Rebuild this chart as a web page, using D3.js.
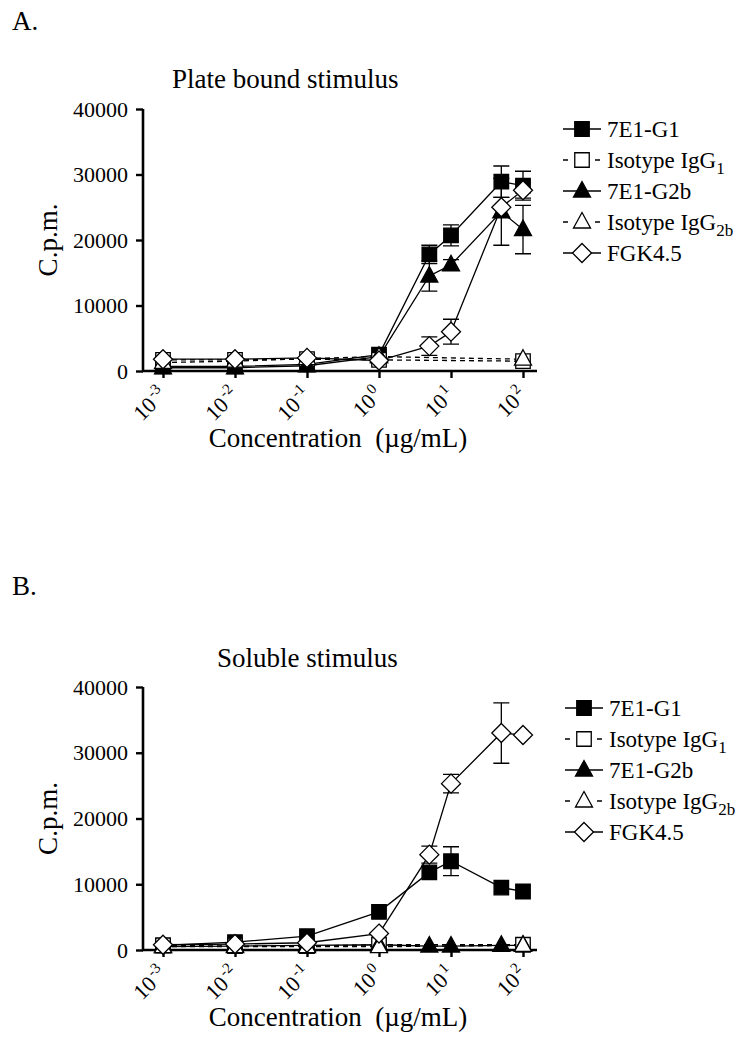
<!DOCTYPE html>
<html><head><meta charset="utf-8">
<script src="https://cdn.jsdelivr.net/npm/d3@7"></script>
<style>
body{margin:0;background:#fff}
svg{display:block}
text{font-family:"Liberation Serif","Times New Roman",serif;fill:#000}
</style>
</head><body>
<svg id="c" width="753" height="1050"></svg>
<script>
// ---------- DATA ----------
const concAll = [0.001, 0.01, 0.1, 1, 5, 10, 50, 100];
const concIso = [0.001, 0.01, 0.1, 1, 100];
const xTickValues = [1e-3, 1e-2, 1e-1, 1e0, 1e1, 1e2];
const xTickExponents = ["-3", "-2", "-1", "0", "1", "2"];
const yTickValues = [0, 10000, 20000, 30000, 40000];
const seriesNames = ["7E1-G1", "Isotype IgG", "7E1-G2b", "Isotype IgG", "FGK4.5"];
const seriesSubs = ["", "1", "", "2b", ""];

// Panel A: plate bound stimulus
const A_G1 = [700, 700, 1000, 2500, 17800, 20700, 28900, 28300];
const A_G1_err = [0, 0, 0, 0, 1400, 1600, 2400, 2200];
const A_IgG1 = [1700, 1700, 1800, 1700, 1500];
const A_G2b = [500, 500, 800, 2200, 14500, 16200, 24300, 21600];
const A_G2b_err = [0, 0, 0, 0, 2300, 800, 5100, 3700];
const A_IgG2b = [1300, 1500, 1900, 2200, 1800];
const A_FGK = [1800, 1800, 2000, 1600, 3800, 6000, 25000, 27600];
const A_FGK_err = [0, 0, 0, 0, 1400, 1900, 1500, 1200];

// Panel B: soluble stimulus
const B_G1 = [700, 1200, 2100, 5800, 11800, 13500, 9500, 8900];
const B_G1_err = [0, 0, 0, 0, 0, 2200, 0, 0];
const B_IgG1 = [700, 600, 600, 800, 800];
const B_G2b = [500, 600, 700, 800, 600, 600, 700, 700];
const B_G2b_err = [0, 0, 0, 0, 0, 0, 0, 0];
const B_IgG2b = [500, 500, 500, 500, 700];
const B_FGK = [800, 900, 1100, 2500, 14500, 25300, 33000, 32700];
const B_FGK_err = [0, 0, 0, 0, 1300, 1400, 4600, 0];

// ---------- LAYOUT ----------
const svg = d3.select("#c");
const FONT = "'Liberation Serif','Times New Roman',serif";

function buildSeries(G1, G1e, I1, G2, G2e, I2, F, Fe) {
  const z = (c, v, e) => c.map((cc, i) => ({c: cc, v: v[i], e: e ? e[i] : 0}));
  return [
    {name: 0, pts: z(concAll, G1, G1e), shape: "square", fill: "#000", dash: null},
    {name: 1, pts: z(concIso, I1), shape: "square", fill: "#fff", dash: "5,4"},
    {name: 2, pts: z(concAll, G2, G2e), shape: "triangle", fill: "#000", dash: null},
    {name: 3, pts: z(concIso, I2), shape: "triangle", fill: "#fff", dash: "5,4"},
    {name: 4, pts: z(concAll, F, Fe), shape: "diamond", fill: "#fff", dash: null}
  ];
}

const panels = [
  {letter: "A.", letterY: 30, title: "Plate bound stimulus", titleX: 172, titleY: 88,
   yTop: 109, yBot: 371, legX: 582, legY: 129,
   series: buildSeries(A_G1, A_G1_err, A_IgG1, A_G2b, A_G2b_err, A_IgG2b, A_FGK, A_FGK_err)},
  {letter: "B.", letterY: 595, title: "Soluble stimulus", titleX: 217, titleY: 667,
   yTop: 687, yBot: 950, legX: 584, legY: 708,
   series: buildSeries(B_G1, B_G1_err, B_IgG1, B_G2b, B_G2b_err, B_IgG2b, B_FGK, B_FGK_err)}
];

function markerPath(shape) {
  if (shape === "square") return d3.symbol(d3.symbolSquare, 210)();
  if (shape === "triangle") return "M0,-9.5L8.5,6L-8.5,6Z";
  return "M0,-9.5L9.5,0L0,9.5L-9.5,0Z";
}

panels.forEach(p => {
  const g = svg.append("g");
  const x = d3.scaleLog().domain([1e-3, 1e2]).range([163, 523]);
  const y = d3.scaleLinear().domain([0, 40000]).range([p.yBot, p.yTop]);

  g.append("text").attr("x", 12).attr("y", p.letterY).style("font-size", "27px").text(p.letter);
  g.append("text").attr("x", p.titleX).attr("y", p.titleY).style("font-size", "27px").text(p.title);

  // Y axis
  const yAxis = d3.axisLeft(y).tickValues(yTickValues).tickSize(7).tickPadding(8).tickFormat(d3.format("d"));
  const ya = g.append("g").attr("transform", "translate(143,0)").call(yAxis);
  ya.select(".domain").attr("stroke-width", 2.6).attr("d", `M0,${p.yTop}V${p.yBot}`);
  ya.selectAll(".tick line").attr("stroke-width", 2.4);
  ya.selectAll(".tick text").style("font-family", FONT).style("font-size", "22px");

  // X axis
  const xAxis = d3.axisBottom(x).tickValues(xTickValues).tickSize(7).tickFormat("");
  const xa = g.append("g").attr("transform", `translate(0,${p.yBot})`).call(xAxis);
  xa.select(".domain").attr("stroke-width", 2.6).attr("d", "M142,0H537");
  xa.selectAll(".tick line").attr("stroke-width", 2.4);
  xTickValues.forEach((v, i) => {
    const t = g.append("text")
      .attr("transform", `translate(${x(v) + 5},${p.yBot + 25}) rotate(-45)`)
      .attr("text-anchor", "end").style("font-size", "22px");
    t.append("tspan").text("10");
    t.append("tspan").attr("dx", 2).attr("dy", -9).style("font-size", "15px").text(xTickExponents[i]);
  });

  g.append("text").attr("transform", `translate(57,${(p.yTop + p.yBot) / 2}) rotate(-90)`)
    .attr("text-anchor", "middle").style("font-size", "27px").text("C.p.m.");
  g.append("text").attr("x", 338).attr("y", p.yBot + 76).attr("text-anchor", "middle")
    .style("font-size", "27px").text("Concentration\u00a0\u00a0(\u00b5g/mL)");

  const line = d3.line().x(d => x(d.c)).y(d => y(d.v));
  // lines & error bars
  p.series.forEach(s => {
    g.append("path").attr("d", line(s.pts)).attr("fill", "none").attr("stroke", "#000")
      .attr("stroke-width", 1.3).attr("stroke-dasharray", s.dash);
    s.pts.filter(d => d.e > 0).forEach(d => {
      const cx = x(d.c), yt = y(d.v + d.e), yb = y(d.v - d.e);
      g.append("path").attr("d", `M${cx},${yt}V${yb}M${cx - 8},${yt}H${cx + 8}M${cx - 8},${yb}H${cx + 8}`)
        .attr("stroke", "#000").attr("stroke-width", 1.3).attr("fill", "none");
    });
  });
  // markers
  p.series.forEach(s => {
    g.selectAll(null).data(s.pts).enter().append("path")
      .attr("transform", d => `translate(${x(d.c)},${y(d.v)})`)
      .attr("d", markerPath(s.shape)).attr("fill", s.fill).attr("stroke", "#000").attr("stroke-width", 1.3);
  });

  // legend
  p.series.forEach((s, i) => {
    const ly = p.legY + i * 31;
    const lg = g.append("g");
    if (s.dash) {
      lg.append("path").attr("d", `M${p.legX - 19},${ly}h5M${p.legX + 13},${ly}h5`).attr("stroke", "#000").attr("stroke-width", 1.3);
    } else {
      lg.append("path").attr("d", `M${p.legX - 19},${ly}H${p.legX + 19}`).attr("stroke", "#000").attr("stroke-width", 1.3);
    }
    lg.append("path").attr("transform", `translate(${p.legX},${ly})`).attr("d", markerPath(s.shape))
      .attr("fill", s.fill).attr("stroke", "#000").attr("stroke-width", 1.3);
    const t = lg.append("text").attr("x", p.legX + 25).attr("y", ly + 8).style("font-size", "23px");
    t.append("tspan").text(seriesNames[i]);
    if (seriesSubs[i]) t.append("tspan").attr("dy", 6).style("font-size", "17px").text(seriesSubs[i]);
  });
});
</script>
</body></html>
